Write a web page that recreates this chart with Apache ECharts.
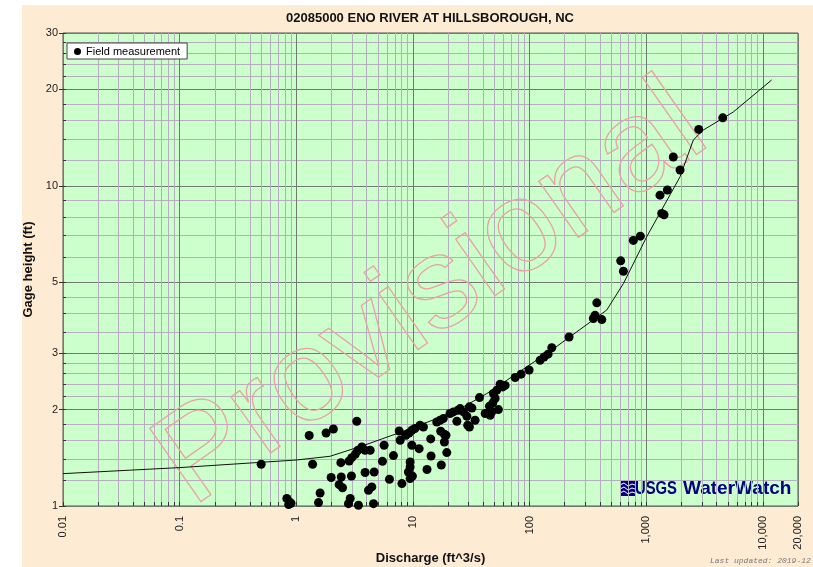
<!DOCTYPE html>
<html>
<head>
<meta charset="utf-8">
<script src="https://cdn.jsdelivr.net/npm/echarts@6/dist/echarts.min.js"></script>
<style>
  html, body { margin: 0; padding: 0; background: #fff; }
  #wrap { position: relative; width: 813px; height: 567px; }
  #bg { position: absolute; left: 22px; top: 5px; right: 0; bottom: 0; background: #fdebd3; }
  #chart { position: absolute; left: 0; top: 0; width: 813px; height: 567px; }
</style>
</head>
<body>
<div id="wrap"><div id="bg"></div><div id="chart"></div></div>
<script>
// field measurements: discharge (ft^3/s) and gage height (ft)
const flowX = [
  0.5, 1.29, 1.8, 2.08, 3.3, 1.38, 0.83, 0.875, 0.86, 0.9,
  1.6, 1.55, 1.99, 2.43, 2.33, 2.49, 2.41, 2.84, 2.99, 3.2,
  3.37, 3.65, 3.89, 4.3, 2.97, 2.9, 2.8, 3.41, 3.89, 4.65,
  4.16, 4.44, 4.59, 5.66, 5.48, 6.81, 6.29, 7.62, 7.77, 8.69,
  9.27, 9.79, 10.4, 11.5, 12.3, 9.79, 9.46, 9.46, 9.14, 9.46,
  9.9, 8.04, 11.3, 14.2, 14.3, 13.2, 17.5, 17.3, 18.6, 19.2,
  18.6, 19.5, 16.0, 17.1, 18.2, 20.8, 22.2, 24.3, 25.4, 27.1,
  23.8, 29.0, 30.5, 32.0, 29.5, 30.5, 34.1, 37.2, 41.6, 45.9,
  47.4, 45.3, 49, 50.6, 52.4, 55.9, 58.9, 61.7, 54.0, 48.4,
  75.2, 84.5, 99, 123, 133, 144,
  155, 218, 352, 364, 377, 416, 604, 637, 775, 890,
  1358, 1422, 1312, 1517, 1950, 1706, 2818, 4529
];
const gageY = [
  1.35, 1.66, 1.69, 1.74, 1.84, 1.35, 1.055, 1.03, 1.01, 1.02,
  1.098, 1.025, 1.227, 1.232, 1.166, 1.14, 1.366, 1.382, 1.416, 1.45,
  1.493, 1.528, 1.493, 1.493, 1.241, 1.055, 1.017, 1.005, 1.272, 1.277,
  1.12, 1.147, 1.017, 1.548, 1.379, 1.437, 1.212, 1.715, 1.605, 1.663,
  1.69, 1.724, 1.746, 1.787, 1.765, 1.548, 1.372, 1.324, 1.277, 1.218,
  1.24, 1.175, 1.51, 1.62, 1.433, 1.3, 1.343, 1.712, 1.675, 1.663,
  1.585, 1.468, 1.83, 1.853, 1.875, 1.944, 1.967, 1.99, 2.015, 1.967,
  1.84, 1.906, 2.04, 2.024, 1.787, 1.765, 1.853, 2.18, 1.944, 1.92,
  1.967, 2.05, 2.245, 2.166, 2.3, 2.4, 2.355, 2.38, 2.0, 2.1,
  2.52, 2.58, 2.66, 2.85, 2.92, 2.98,
  3.12, 3.37, 3.85, 3.94, 4.31, 3.82, 5.83, 5.41, 6.75, 6.96,
  8.2, 8.12, 9.35, 9.7, 11.2, 12.3, 15.0, 16.3
];

// rating curve
const ratingFlow = [0.01, 0.1, 1, 1.95, 3.77, 7.28, 16, 27.1, 43, 63.8, 155, 458, 637, 1009, 1950, 2533, 3085, 5575, 11890];
const ratingGage = [1.262, 1.318, 1.392, 1.43, 1.545, 1.683, 1.875, 2.04, 2.245, 2.47, 3.07, 4.09, 4.95, 6.93, 10.67, 13.9, 14.93, 17.0, 21.4];

// axis ticks
const xDecades = [0.01, 0.1, 1, 10, 100, 1000];
const xSteps = [1, 2, 3, 4, 5, 6, 7, 8, 9];
const xLabelValues = [0.01, 0.1, 1, 10, 100, 1000, 10000, 20000];
const yGridValues = [1, 1.2, 1.4, 1.6, 1.8, 2, 2.2, 2.4, 2.6, 2.8, 3, 3.5, 4, 4.5, 5, 6, 7, 8, 9,
  10, 12, 14, 16, 18, 20, 22, 24, 26, 28, 30];
const yLabelValues = [1, 2, 3, 5, 10, 20, 30];

const xGridValues = [];
xDecades.forEach(d => xSteps.forEach(s => xGridValues.push(+(d * s).toPrecision(3))));
xGridValues.push(10000, 20000);

const minorGrid = '#b4afbd';
const majorGrid = '#6f7a70';
const font = '"Liberation Sans", Arial, sans-serif';

const chart = echarts.init(document.getElementById('chart'));

chart.setOption({
  backgroundColor: 'transparent',
  animation: false,
  title: {
    text: '02085000 ENO RIVER AT HILLSBOROUGH, NC',
    left: 430,
    top: 12,
    padding: 0,
    textAlign: 'center',
    textStyle: { fontFamily: font, fontSize: 13, fontWeight: 'bold', color: '#111' }
  },
  legend: {
    data: ['Field measurement'],
    left: 67,
    top: 43,
    padding: [3, 7, 2, 7],
    itemWidth: 7,
    itemHeight: 7,
    itemGap: 4,
    backgroundColor: '#fff',
    borderColor: '#444',
    borderWidth: 1,
    borderRadius: 0,
    textStyle: { fontFamily: font, fontSize: 11, color: '#000' }
  },
  grid: {
    left: 63, right: 15, top: 33, bottom: 61,
    show: true,
    backgroundColor: '#ccffcc',
    borderColor: '#555',
    borderWidth: 1,
    outerBoundsMode: 'none'
  },
  xAxis: [
    {
      type: 'log', logBase: 10, min: 0.01, max: 20000, position: 'bottom',
      axisLine: { show: false },
      axisTick: { show: true, inside: true, length: 4, customValues: xGridValues, lineStyle: { color: '#333' } },
      axisLabel: { show: false },
      splitLine: { show: true, lineStyle: { color: minorGrid, width: 1 } }
    },
    {
      type: 'log', logBase: 10, min: 0.01, max: 20000, position: 'bottom',
      name: 'Discharge (ft^3/s)', nameLocation: 'middle', nameGap: 46, nameMoveOverlap: false,
      nameTextStyle: { fontFamily: font, fontSize: 13, fontWeight: 'bold', color: '#111' },
      axisLine: { show: false },
      axisTick: { show: false, customValues: xLabelValues },
      axisLabel: {
        customValues: xLabelValues, rotate: 90, margin: 10,
        fontFamily: font, fontSize: 11, color: '#222',
        formatter: v => v >= 1000 ? Number(v).toLocaleString('en-US') : String(v)
      },
      splitLine: { show: true, lineStyle: { color: majorGrid, width: 1 } }
    }
  ],
  yAxis: [
    {
      type: 'log', logBase: 10, min: 1, max: 30, position: 'left',
      axisLine: { show: false },
      axisTick: { show: true, inside: true, length: 3, customValues: yGridValues, lineStyle: { color: '#333' } },
      axisLabel: { show: false },
      splitLine: { show: true, lineStyle: { color: minorGrid, width: 1 } }
    },
    {
      type: 'log', logBase: 10, min: 1, max: 30, position: 'left',
      name: 'Gage height (ft)', nameLocation: 'middle', nameGap: 28,
      nameTextStyle: { fontFamily: font, fontSize: 13, fontWeight: 'bold', color: '#111' },
      axisLine: { show: false },
      axisTick: { show: true, length: 4, customValues: yLabelValues, lineStyle: { color: '#333' } },
      axisLabel: { customValues: yLabelValues, margin: 5, fontFamily: font, fontSize: 11, color: '#222' },
      splitLine: { show: true, lineStyle: { color: majorGrid, width: 1 } }
    }
  ],
  graphic: [
    {
      type: 'text', x: 432, y: 296, rotation: 35 * Math.PI / 180, z: 1, silent: true,
      style: {
        text: 'Provisional', font: '130px "Liberation Sans", Arial, sans-serif',
        fill: 'none', stroke: '#e6a3a6', lineWidth: 1.3,
        textAlign: 'center', textVerticalAlign: 'middle'
      }
    },
    {
      type: 'group', z: 3, silent: true,
      children: [
        { type: 'rect', shape: { x: 620, y: 481, width: 15, height: 15 }, style: { fill: '#000080' } },
        { type: 'polyline', shape: { points: [[620, 485], [624, 483], [628, 486], [632, 484], [635, 485]] }, style: { stroke: '#fff', lineWidth: 1, fill: 'none' } },
        { type: 'polyline', shape: { points: [[620, 489], [624, 487], [628, 490], [632, 488], [635, 489]] }, style: { stroke: '#fff', lineWidth: 1, fill: 'none' } },
        { type: 'polyline', shape: { points: [[620, 493], [624, 491], [628, 494], [632, 492], [635, 493]] }, style: { stroke: '#fff', lineWidth: 1, fill: 'none' } },
        { type: 'text', x: 635, y: 489, scaleX: 0.78, style: { text: 'USGS', font: 'bold 19px "Liberation Sans", Arial, sans-serif', fill: '#000080', textVerticalAlign: 'middle' } },
        { type: 'text', x: 683, y: 489, style: { text: 'WaterWatch', font: 'bold 19px "Liberation Sans", Arial, sans-serif', fill: '#000080', textVerticalAlign: 'middle' } }
      ]
    },
    {
      type: 'text', x: 710, y: 561, silent: true,
      style: { text: 'Last updated: 2019-12', font: 'italic 8px "Liberation Mono", "DejaVu Sans Mono", monospace', fill: '#777', textVerticalAlign: 'middle' }
    }
  ],
  series: [
    {
      name: 'Rating',
      type: 'line',
      data: ratingFlow.map((x, i) => [x, ratingGage[i]]),
      symbol: 'none',
      lineStyle: { color: '#111', width: 1 },
      silent: true,
      z: 2
    },
    {
      name: 'Field measurement',
      type: 'scatter',
      data: flowX.map((x, i) => [x, gageY[i]]),
      symbol: 'circle',
      symbolSize: 9,
      itemStyle: { color: '#000', opacity: 1 },
      z: 3
    }
  ]
});
</script>
</body>
</html>
